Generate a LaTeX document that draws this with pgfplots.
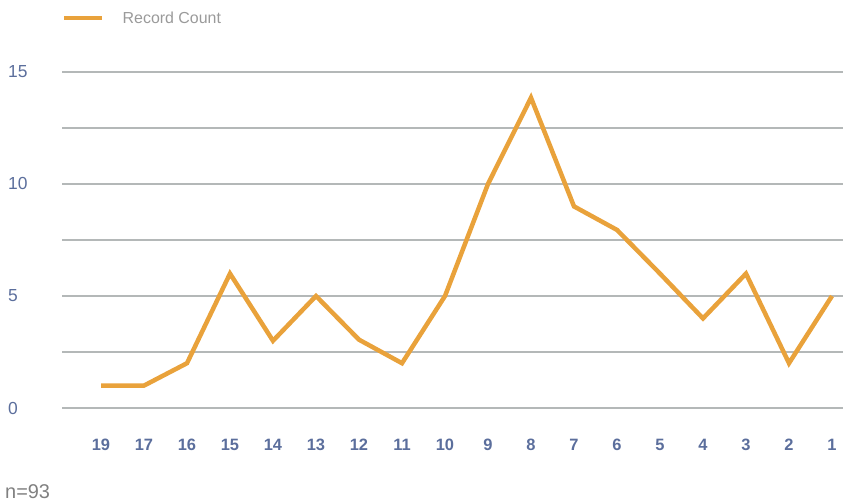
\documentclass[border=0pt]{standalone}
\usepackage{pgfplots}
\pgfplotsset{compat=1.18}
\usepackage{fontspec}
\setmainfont{Liberation Sans}
\definecolor{lineorange}{HTML}{E9A23B}
\definecolor{gridgray}{HTML}{B4B8B8}
\definecolor{tickblue}{HTML}{5B6E9C}
\definecolor{legendgray}{HTML}{9A9A9A}
\definecolor{notegray}{HTML}{808080}
\begin{document}
\begin{tikzpicture}
\useasboundingbox (-62bp,-93bp) rectangle (781bp,408bp);
\begin{axis}[
  at={(0,0)}, anchor=south west,
  scale only axis, width=781bp, height=336bp,
  xmin=-0.907, xmax=17.256, ymin=0, ymax=15,
  clip=false,
  axis line style={draw=none},
  major tick length=0pt, minor tick length=0pt,
  tick style={draw=none},
  xtick={0,...,17},
  xticklabels={19,17,16,15,14,13,12,11,10,9,8,7,6,5,4,3,2,1},
  ytick={0,5,10,15},
  minor ytick={2.5,7.5,12.5},
  ymajorgrids, yminorgrids,
  major grid style={color=gridgray, line width=1.5bp},
  minor grid style={color=gridgray, line width=1.5bp},
  /pgf/number format/assume math mode=true,
  yticklabel style={anchor=west, inner sep=0pt, xshift=-54bp, font=\fontsize{17.5}{17.5}\selectfont, text=tickblue},
  xticklabel style={anchor=north, inner sep=0pt, yshift=-31bp, font=\bfseries\fontsize{16.5}{16.5}\selectfont, text=tickblue},
  legend style={at={(0,1)}, anchor=west, yshift=54bp, draw=none, fill=none, inner sep=0pt,
    font=\fontsize{16}{16}\selectfont, text=legendgray,
    nodes={inner sep=0pt},
    /tikz/every odd column/.append style={column sep=18bp}},
  legend image code/.code={\draw[#1] (0bp,0bp) -- (38bp,0bp);},
  legend cell align=left,
]
\addplot[color=lineorange, line width=4.5bp] coordinates {
(0,1) (1,1) (2,2) (3,6) (4,3) (5,5) (6,3.05) (7,2) (8,5) (9,10)
(10,13.85) (11,9) (12,7.95) (13,6) (14,4) (15,6) (16,2) (17,5)
};
\addlegendentry{Record Count}
\end{axis}
\node[anchor=base west, inner sep=0pt, font=\fontsize{20}{20}\selectfont, text=notegray] at (-57bp,-90bp) {n=93};
\end{tikzpicture}
\end{document}
